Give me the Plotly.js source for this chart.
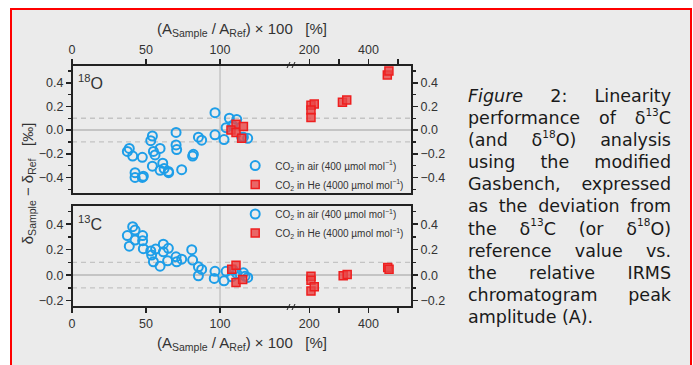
<!DOCTYPE html>
<html>
<head>
<meta charset="utf-8">
<script src="https://cdn.plot.ly/plotly-3.0.1.min.js"></script>
<style>
  html, body { margin:0; padding:0; background:#ffffff; }
  #frame { position:absolute; left:10px; top:8px; width:678px; height:400px; border:2px solid #ff0000; background:#ebebeb; }
  #chart { position:absolute; left:0; top:0; width:693px; height:365px; }
  #caption { position:absolute; left:468px; top:85px; width:203px; font-family:"DejaVu Sans", Verdana, sans-serif; font-size:17.5px; line-height:22.1px; color:#1a1a1a; }
  #caption div { text-align:justify; text-align-last:justify; white-space:nowrap; }
  #caption div.last { text-align:left; text-align-last:left; }
  #caption sup { font-size:0.6em; line-height:0; position:relative; top:-0.15em; }
</style>
</head>
<body>
<div id="frame"></div>
<div id="chart"></div>
<div id="caption">
  <div><i>Figure</i> 2: Linearity</div>
  <div>performance of δ<sup>13</sup>C</div>
  <div>(and δ<sup>18</sup>O) analysis</div>
  <div>using the modified</div>
  <div>Gasbench, expressed</div>
  <div>as the deviation from</div>
  <div>the δ<sup>13</sup>C (or δ<sup>18</sup>O)</div>
  <div>reference value vs.</div>
  <div>the relative IRMS</div>
  <div>chromatogram peak</div>
  <div class="last">amplitude (A).</div>
</div>
<script>
// ---- data (x: relative peak amplitude %, y: deviation ‰) ----
const o18AirX = [38.7, 37.4, 41.0, 47.5, 42.6, 42.6, 47.5, 48.2, 54.3, 53.2, 55.0, 56.1, 59.5, 54.3, 61.3, 62.2, 59.5, 65.1, 65.3, 70.3, 70.3, 70.7, 74.1, 81.5, 82.0, 85.4, 87.6, 96.6, 96.6, 102.7, 106.3, 104.1, 111.3, 108.5, 115.8, 118.7, 114.6];
const o18AirY = [-0.155, -0.18, -0.22, -0.23, -0.36, -0.40, -0.40, -0.39, -0.05, -0.09, -0.18, -0.21, -0.155, -0.305, -0.28, -0.325, -0.34, -0.35, -0.36, -0.02, -0.125, -0.165, -0.335, -0.22, -0.205, -0.06, -0.085, 0.147, -0.04, -0.08, 0.10, 0.02, 0.09, 0.04, -0.06, -0.07, -0.06];
const o18HeX = [110.8, 107.4, 110.8, 115.8, 114.6, 205.7, 216.8, 205.7, 205.7, 312, 326.5, 463.6, 469];
const o18HeY = [0.05, 0.0, -0.02, 0.03, -0.07, 0.21, 0.22, 0.17, 0.107, 0.235, 0.255, 0.466, 0.50];
const c13AirX = [37.4, 38.7, 41.0, 42.6, 42.6, 47.7, 47.7, 48.2, 53.2, 53.8, 55.0, 56.5, 59.5, 61.7, 61.7, 65.1, 64.6, 70.3, 70.7, 74.1, 80.9, 81.5, 85.4, 87.6, 85.4, 96.6, 96.1, 102.7, 104.1, 109.0, 107.9, 111.3, 115.8, 116.9, 118.7];
const c13AirY = [0.31, 0.227, 0.38, 0.353, 0.275, 0.31, 0.27, 0.207, 0.19, 0.157, 0.105, 0.204, 0.07, 0.243, 0.183, 0.21, 0.112, 0.144, 0.105, 0.125, 0.2, 0.118, 0.065, 0.045, -0.005, 0.03, -0.026, -0.045, 0.03, 0.04, -0.013, 0.013, 0.018, -0.008, -0.018];
const c13HeX = [107.9, 110.8, 110.8, 115.3, 205.7, 205.7, 205.7, 216.8, 314.5, 328, 465, 469.5];
const c13HeY = [0.047, 0.078, -0.057, -0.034, -0.008, -0.04, -0.125, -0.092, -0.005, 0.005, 0.06, 0.047];

const xTickValsLow = [0, 50, 100];
const xTickValsHigh = [200, 300, 400, 500];
const xTickTextHigh = ['200', '', '400', ''];
const labelAir = 'CO<sub>2</sub> in air (400 µmol mol<sup>−1</sup>)';
const labelHe = 'CO<sub>2</sub> in He (4000 µmol mol<sup>−1</sup>)';

// ---- styling ----
const FONT = 'Liberation Sans';
const BLUE = 'rgb(30,158,232)';
const RED = '#ee1f1f';
const REDFILL = 'rgba(232,70,70,0.8)';
const BREAK = 147;
const SPLIT = 0.65;

function split(xs, ys, low) {
  const ox = [], oy = [];
  xs.forEach((v, i) => { if ((v < BREAK) === low) { ox.push(v); oy.push(ys[i]); } });
  return [ox, oy];
}
const airMarker = {symbol: 'circle-open', size: 9, color: BLUE, line: {width: 2, color: BLUE}};
const heMarker = {symbol: 'square', size: 8, color: REDFILL, line: {width: 1.5, color: RED}};

function panelTraces(airX, airY, heX, heY, xa, xb, ya, legend) {
  const out = [];
  const [a1x, a1y] = split(airX, airY, true);
  const [a2x, a2y] = split(airX, airY, false);
  const [h1x, h1y] = split(heX, heY, true);
  const [h2x, h2y] = split(heX, heY, false);
  out.push({type: 'scatter', mode: 'markers', x: a1x, y: a1y, xaxis: xa, yaxis: ya, marker: airMarker, name: labelAir, legend: legend});
  out.push({type: 'scatter', mode: 'markers', x: h1x, y: h1y, xaxis: xa, yaxis: ya, marker: heMarker, name: labelHe, legend: legend});
  out.push({type: 'scatter', mode: 'markers', x: a2x, y: a2y, xaxis: xb, yaxis: ya, marker: airMarker, showlegend: false});
  out.push({type: 'scatter', mode: 'markers', x: h2x, y: h2y, xaxis: xb, yaxis: ya, marker: heMarker, showlegend: false});
  return out;
}

const data = [].concat(
  panelTraces(o18AirX, o18AirY, o18HeX, o18HeY, 'x3', 'x4', 'y2', 'legend'),
  panelTraces(c13AirX, c13AirY, c13HeX, c13HeY, 'x', 'x2', 'y', 'legend2'),
  [
    {type: 'scatter', x: [], y: [], xaxis: 'x2', yaxis: 'y3', showlegend: false},
    {type: 'scatter', x: [], y: [], xaxis: 'x4', yaxis: 'y4', showlegend: false}
  ]
);

const tickCommon = {
  ticks: 'outside', ticklen: 5, tickwidth: 1.5, tickcolor: '#222',
  showgrid: false, zeroline: false, showline: false,
  tickfont: {family: FONT, size: 12.5, color: '#333'}
};
function xLow(anchor, side) {
  return Object.assign({}, tickCommon, {domain: [0, SPLIT], range: [0, 149.3], anchor: anchor, side: side,
    tickmode: 'array', tickvals: xTickValsLow});
}
function xHigh(anchor, side) {
  return Object.assign({}, tickCommon, {domain: [SPLIT, 1], range: [145, 547], anchor: anchor, side: side,
    tickmode: 'array', tickvals: xTickValsHigh, ticktext: xTickTextHigh});
}
function yAx(domain, range, extra) {
  return Object.assign({}, tickCommon, {domain: domain, range: range, dtick: 0.2, tick0: 0, tickformat: '.1f',
    zeroline: true, zerolinecolor: '#c4c4c4', zerolinewidth: 1.5,
    minor: {dtick: 0.1, tick0: 0, ticks: 'outside', ticklen: 3, tickwidth: 1.5, tickcolor: '#222', showgrid: false}}, extra);
}

const TOPD = [0.467, 1];
const BOTD = [0, 0.4215];
const TOPR = [-0.54, 0.55];
const BOTR = [-0.25, 0.55];

function hline(yref, val) {
  return {type: 'line', xref: 'paper', yref: yref, x0: 0, x1: 1, y0: val, y1: val,
    line: {color: '#c4c4c4', width: 1.3, dash: '5px,4px'}, layer: 'below'};
}
function vline(xref, yref, val) {
  return {type: 'line', xref: xref, yref: yref, x0: val, x1: val, y0: 0, y1: 1,
    line: {color: '#c4c4c4', width: 1.5}, layer: 'below'};
}
function breakMark(yPaper) {
  return {type: 'path', xref: 'paper', yref: 'paper', xsizemode: 'pixel', ysizemode: 'pixel',
    xanchor: SPLIT, yanchor: yPaper, path: 'M-7,0 L-5,0 M-6,-3 L-3,3 M-1,-3 L2,3 M1,0 L4,0',
    line: {color: '#222', width: 1}};
}

const legendCommon = {x: 0.48, xanchor: 'left', yanchor: 'middle', bgcolor: 'rgba(0,0,0,0)',
  font: {family: FONT, size: 10, color: '#333'}, tracegroupgap: 0};

const layout = {
  width: 693, height: 365,
  margin: {l: 72, r: 281, t: 65, b: 58},
  paper_bgcolor: 'rgba(0,0,0,0)', plot_bgcolor: 'rgba(0,0,0,0)',
  font: {family: FONT, color: '#333'},
  showlegend: true,
  xaxis: xLow('y', 'bottom'),
  xaxis2: xHigh('y', 'bottom'),
  xaxis3: xLow('y2', 'top'),
  xaxis4: xHigh('y2', 'top'),
  yaxis: yAx(BOTD, BOTR, {anchor: 'x', side: 'left'}),
  yaxis2: yAx(TOPD, TOPR, {anchor: 'x3', side: 'left'}),
  yaxis3: yAx(BOTD, BOTR, {anchor: 'x2', side: 'right', overlaying: 'y', zeroline: false}),
  yaxis4: yAx(TOPD, TOPR, {anchor: 'x4', side: 'right', overlaying: 'y2', zeroline: false}),
  legend: Object.assign({}, legendCommon, {y: 0.545}),
  legend2: Object.assign({}, legendCommon, {y: 0.345}),
  shapes: [
    hline('y2', 0.1), hline('y2', -0.1), hline('y', 0.1), hline('y', -0.1),
    vline('x3', 'y2 domain', 100), vline('x', 'y domain', 100),
    {type: 'rect', xref: 'paper', yref: 'paper', x0: 0, x1: 1, y0: TOPD[0], y1: TOPD[1], line: {color: '#222', width: 2}},
    {type: 'rect', xref: 'paper', yref: 'paper', x0: 0, x1: 1, y0: BOTD[0], y1: BOTD[1], line: {color: '#222', width: 2}},
    breakMark(1), breakMark(0)
  ],
  annotations: [
    {xref: 'paper', yref: 'paper', x: 0.5, y: 1.145, xanchor: 'center', yanchor: 'middle', showarrow: false,
      text: '(A<sub>Sample</sub> / A<sub>Ref</sub>) × 100\u00a0\u00a0\u00a0[%]', font: {family: FONT, size: 15, color: '#333'}},
    {xref: 'paper', yref: 'paper', x: 0.5, y: -0.149, xanchor: 'center', yanchor: 'middle', showarrow: false,
      text: '(A<sub>Sample</sub> / A<sub>Ref</sub>) × 100\u00a0\u00a0\u00a0[%]', font: {family: FONT, size: 15, color: '#333'}},
    {xref: 'paper', yref: 'paper', x: -0.129, y: 0.512, xanchor: 'center', yanchor: 'middle', showarrow: false, textangle: -90,
      text: 'δ<sub>Sample</sub> − δ<sub>Ref</sub>\u00a0\u00a0\u00a0[‰]', font: {family: FONT, size: 15, color: '#333'}},
    {xref: 'paper', yref: 'paper', x: 0.012, y: 0.979, xanchor: 'left', yanchor: 'top', showarrow: false,
      text: '<sup>18</sup>O', font: {family: FONT, size: 16, color: '#333'}},
    {xref: 'paper', yref: 'paper', x: 0.012, y: 0.397, xanchor: 'left', yanchor: 'top', showarrow: false,
      text: '<sup>13</sup>C', font: {family: FONT, size: 16, color: '#333'}}
  ]
};

Plotly.newPlot('chart', data, layout, {displayModeBar: false, staticPlot: true});
</script>
</body>
</html>
